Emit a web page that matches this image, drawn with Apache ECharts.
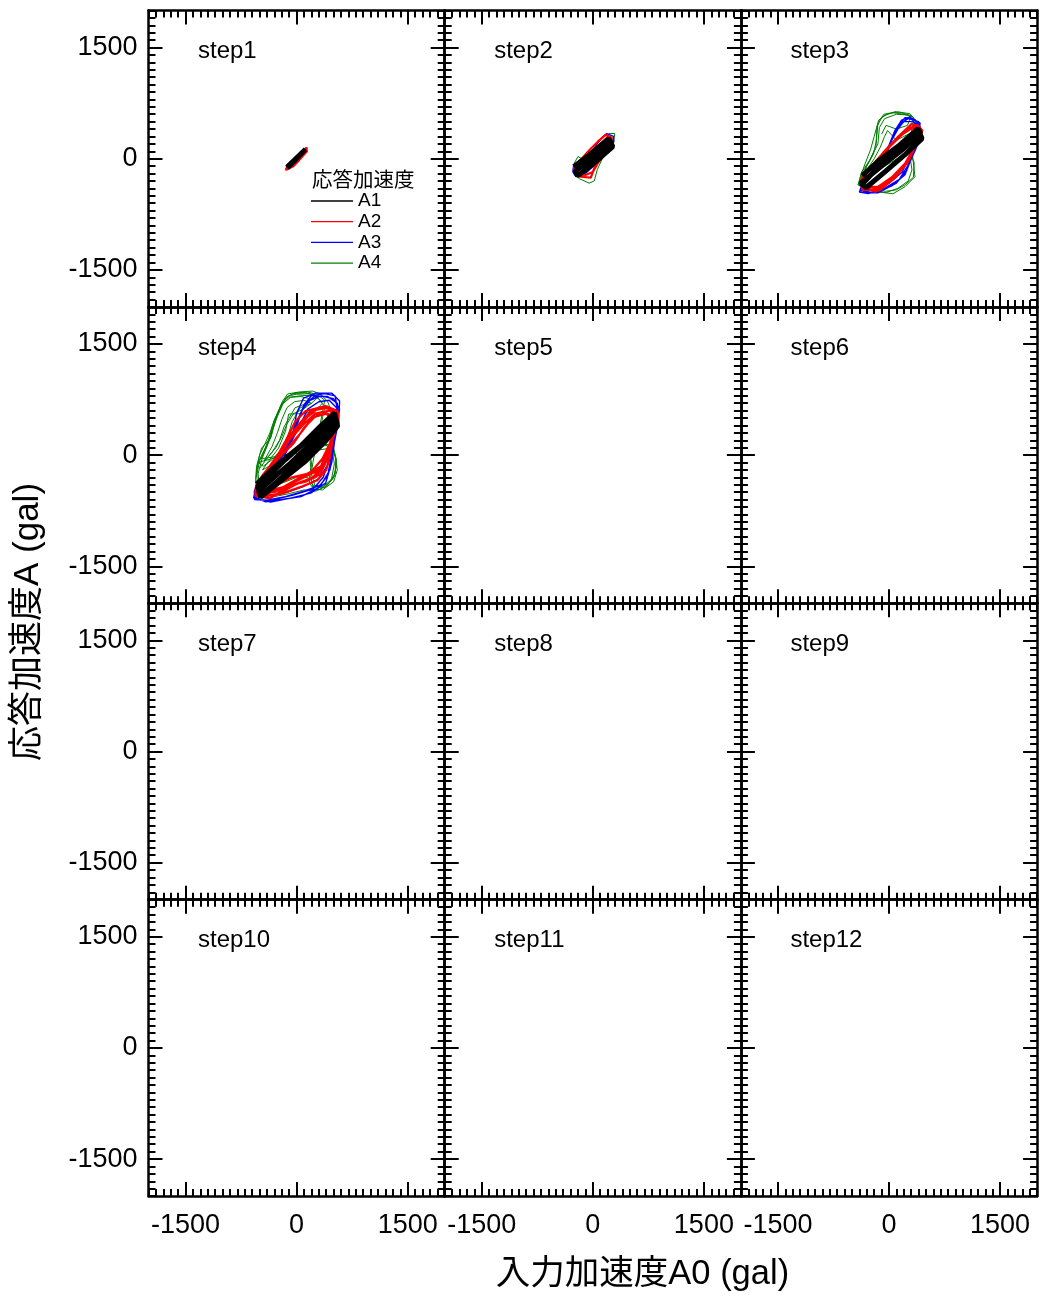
<!DOCTYPE html>
<html><head><meta charset="utf-8">
<script src="https://cdn.jsdelivr.net/npm/echarts@6/dist/echarts.min.js"></script>
<style>html,body{margin:0;padding:0;background:#fff}#c{width:1040px;height:1297px}</style>
</head><body><div id="c"></div>
<script>
const FONT = '"Liberation Sans", "Noto Sans CJK JP", sans-serif';
const stepLabels = ['step1','step2','step3','step4','step5','step6','step7','step8','step9','step10','step11','step12'];
const seriesNames = ['A1','A2','A3','A4'];
const seriesColors = ['#000000','#ff0000','#0000ff','#008000'];
const majorTickValues = [-1500, 0, 1500];
const axisMin = -2000, axisMax = 2000, minorStep = 100;
const xTitle = '入力加速度A0 (gal)';
const yTitle = '応答加速度A (gal)';
const legendTitle = '応答加速度';

// ---- step1 ----
const step1_A1 = [[-135,-110],[0,20],[115,130],[130,110],[10,0],[-120,-130],[-130,-120],[120,120]];
const step1_A2 = [[-150,-140],[-60,-80],[40,30],[130,150],[140,100],[50,0],[-40,-100],[-140,-150],[-150,-140]];
const step1_A3 = [[-140,-120],[0,-20],[120,100],[140,150],[20,40],[-130,-90],[-140,-120]];
const step1_A4 = [[-120,-120],[-50,-70],[30,-40],[0,20],[-80,-30],[-130,-80],[-120,-120]];
// ---- step2 ----
const step2_A1 = [[-257,-108],[-27,68],[216,270],[270,162],[41,-41],[-203,-230],[-240,-170],[0,10],[250,220],[230,250],[20,50],[-220,-140]];
const step2_A2 = [[-257,-149],[-162,-243],[-27,-257],[27,-108],[135,27],[243,149],[257,284],[176,324],[68,230],[-41,122],[-162,-14],[-243,-81],[-257,-149],
  [-230,-200],[-100,-220],[0,-180],[80,-40],[200,100],[260,230],[200,290],[100,200],[0,100],[-120,-20],[-230,-120]];
const step2_A3 = [[-270,-176],[-230,-240],[-100,-200],[50,-60],[200,100],[284,230],[280,300],[189,338],[120,280],[0,120],[-150,0],[-260,-100],[-270,-176]];
const step2_A4 = [[-250,-220],[-250,-60],[-200,30],[-150,0],[-50,-50],[50,50],[150,200],[220,340],[297,340],[280,230],[150,50],[60,-150],[20,-300],[-50,-330],[-180,-270],[-250,-220]];
// ---- step3 ----
const step3_A1 = [[-365,-230],[-122,-14],[149,189],[392,405],[446,270],[216,54],[-54,-176],[-311,-392],[-380,-330],[-100,-100],[180,120],[430,340],[400,380],[150,150],[-150,-120],[-350,-330]];
const step3_A2 = [[-365,-378],[-189,-446],[-14,-324],[176,-135],[324,122],[432,392],[311,473],[122,297],[-68,95],[-230,-108],[-351,-243],[-365,-378],
  [-340,-400],[-150,-380],[40,-250],[220,-60],[360,180],[440,350],[350,440],[180,330],[0,150],[-180,-60],[-320,-200],[-380,-300],[-340,-400],
  [-380,-330],[-240,-420],[-60,-360],[120,-200],[280,20],[400,280],[420,420],[260,400],[60,220],[-120,30],[-280,-150],[-380,-330],
  [-360,-420],[-120,-420],[80,-260],[260,-40],[380,220],[450,380],[380,460],[220,380],[40,200],[-150,0],[-300,-180],[-360,-420]];
const step3_A3 = [[-392,-419],[-230,-459],[41,-365],[216,-216],[284,-41],[405,230],[432,405],[351,527],[216,554],[135,459],[41,270],[-54,0],[-189,-176],[-324,-270],[-392,-419],
  [-370,-380],[-200,-430],[0,-330],[180,-180],[260,0],[380,260],[420,440],[320,500],[200,500],[120,400],[20,220],[-90,-20],[-240,-200],[-370,-300],[-370,-380],
  [-400,-450],[-280,-470],[-60,-400],[140,-280],[250,-100],[340,120],[440,350],[400,500],[260,540],[160,480],[70,330],[-20,100],[-150,-120],[-300,-250],[-400,-450],
  [-380,-440],[-150,-460],[100,-330],[240,-160],[300,60],[400,300],[420,480],[280,560],[170,520],[80,380],[0,180],[-120,-60],[-280,-220],[-380,-440]];
const step3_A4 = [[-419,-351],[-365,-176],[-257,-14],[-176,162],[-162,432],[-95,567],[81,635],[284,608],[351,527],[378,297],[311,95],[351,-243],[216,-378],[54,-473],[-149,-446],[-324,-419],[-419,-351],
  [-400,-330],[-330,-150],[-240,20],[-150,200],[-130,420],[-60,540],[100,600],[260,590],[330,500],[300,350],[200,300],[100,250],[-20,380],[-60,300],[-120,150],[-200,0],[-300,-150],[-380,-300],
  [270,100],[340,-50],[330,-250],[220,-350],[100,-420],[-50,-440],[-200,-420],[-350,-380],[-410,-350],
  [-380,-280],[-300,-100],[-210,60],[-170,250],[-150,470],[-70,600],[60,620],[200,600],[330,560],[360,400],[320,200],[280,50],[310,-150],[260,-300],[120,-400],[-50,-460],[-250,-430],[-380,-380],
  [-390,-250],[-320,-60],[-250,120],[-200,300],[-140,520],[-20,610],[140,630],[300,580],[250,450],[100,400],[-40,450],[-100,330]];
// ---- step4 ----
const step4_A1 = [[-540,-392],[-284,-149],[54,122],[324,392],[513,567],[554,392],[392,189],[122,-81],[-216,-351],[-486,-567],[-513,-486],[-250,-250],[-81,-108],[257,216],[527,486],[500,530],[200,250],[-150,-60],[-400,-300],[-530,-430],[-470,-540],[-200,-300],[100,-20],[380,260],[540,440]];
const step4_A2 = [[-554,-554],[-351,-581],[-149,-446],[54,-365],[257,-297],[378,-108],[459,162],[567,432],[554,594],[392,662],[122,594],[-14,459],[-149,189],[-284,-54],[-459,-270],[-554,-446],[-554,-554],
  [-520,-520],[-300,-500],[-100,-400],[100,-300],[300,-200],[420,0],[500,250],[540,500],[450,600],[250,560],[80,400],[-100,200],[-300,-100],[-480,-330],[-520,-520],
  [-500,-560],[-250,-470],[0,-330],[200,-220],[350,-50],[470,200],[560,480],[500,620],[300,640],[150,520],[0,330],[-200,80],[-400,-200],[-540,-400],[-500,-560],
  [-540,-500],[-320,-420],[-60,-300],[160,-250],[330,-150],[430,100],[520,380],[480,540],[330,580],[180,460],[40,280],[-180,30],[-380,-170],[-540,-500],
  [-530,-540],[-280,-540],[-20,-400],[220,-300],[360,-130],[440,60],[520,320],[555,560],[420,640],[200,600],[60,450],[-60,300],[-240,20],[-420,-230],[-530,-540],
  [-480,-500],[-220,-440],[120,-360],[320,-260],[410,-60],[480,220],[530,420],[400,560],[250,520],[110,380],[-40,160],[-260,-60],[-460,-300],[-480,-500],
  [-450,-560],[-200,-520],[80,-420],[280,-340],[400,-200],[450,-30],[500,300]];
const step4_A3 = [[-581,-581],[-351,-635],[-81,-581],[189,-513],[392,-378],[473,-108],[513,189],[567,459],[581,729],[473,837],[257,837],[95,770],[0,567],[-54,257],[-176,-54],[-378,-243],[-540,-392],[-581,-581],
  [-560,-540],[-300,-600],[-50,-540],[220,-460],[360,-300],[440,-60],[500,230],[560,520],[550,700],[420,790],[240,790],[120,700],[40,520],[-20,300],[-140,40],[-340,-180],[-520,-360],[-560,-540],
  [-570,-600],[-400,-610],[-150,-560],[120,-480],[330,-400],[450,-200],[490,80],[540,350],[580,620],[500,760],[330,800],[180,740],[70,600],[-30,380],[-100,150],[-260,-100],[-450,-300],[-570,-480],[-570,-600],
  [-540,-460],[-350,-540],[-120,-500],[100,-420],[300,-320],[410,-150],[470,100],[520,380],[540,640],[440,740],[300,720],[150,620],[60,430],[-60,200],[-220,-20],[-420,-250],[-540,-460],
  [-575,-560],[-420,-630],[-200,-600],[60,-560],[280,-450],[420,-280],[470,0],[520,280],[560,560],[520,800],[380,830],[200,800],[100,680],[20,450],[-80,220],[-300,-120],[-500,-330],[-575,-560]];
const step4_A4 = [[-540,-486],[-554,-324],[-540,-149],[-473,95],[-351,230],[-311,419],[-257,567],[-189,729],[-122,824],[27,851],[216,864],[324,824],[420,720],[500,520],[430,300],[300,190],[365,162],[500,95],[540,-81],[513,-284],[405,-419],[257,-486],[100,-470],[-100,-520],[-300,-560],[-540,-486],
  [-500,-450],[-520,-250],[-470,-60],[-400,120],[-330,330],[-280,500],[-200,680],[-100,780],[50,800],[200,810],[300,760],[380,650],[330,400],[250,250],[200,150],[365,162],[480,60],[510,-120],[470,-330],[350,-430],[200,-420],[150,-300],[0,-300],[-200,-380],[-400,-480],[-500,-450],
  [-530,-420],[-540,-200],[-500,0],[-420,170],[-360,300],[-300,480],[-230,620],[-150,760],[-50,830],[120,840],[260,800],[350,700],[250,600],[100,560],[-108,554],[-149,324],[-243,95],[-378,-81],[-460,-200],
  [162,149],[365,162],[480,120],[530,-40],[520,-250],[430,-380],[300,-470],[162,-351],[203,-122],[162,149],
  [200,100],[400,130],[510,40],[540,-150],[490,-320],[380,-440],[250,-420],[200,-250],[180,-50],[200,100],
  [-520,-100],[-440,60],[-380,200],[-330,380],[-270,540],[-200,700],[-110,800],[0,820],[180,830],[300,790],[200,700],[50,640],[-60,450],[-120,250],[-220,60],[-330,-60],[-450,-150],[-520,-100],
  [-545,-300],[-500,-80],[-410,100],[-340,260],[-290,450],[-220,640],[-140,780],[-20,840],[150,850],[280,820],[380,740],
  [250,60],[430,90],[525,-20],[550,-200],[500,-360],[350,-470],[230,-460],[190,-300],[220,-100],[250,60],
  [-480,-50],[-400,150],[-330,330],[-260,520],[-180,700],[-80,780],[60,790],[180,760],[120,690],[-20,640],[-90,520],[-170,380],[-230,200],[-330,40],[-440,-80],
  [-420,-60],[-330,120],[-260,300],[-200,480],[-130,640],[-30,720],[100,740],[200,700],[90,620],[-40,560],[-130,420],[-200,250],[-280,100],[-380,-20],[-500,-180]];

const stepData = {
  step1: {A1: step1_A1, A2: step1_A2, A3: step1_A3, A4: step1_A4},
  step2: {A1: step2_A1, A2: step2_A2, A3: step2_A3, A4: step2_A4},
  step3: {A1: step3_A1, A2: step3_A2, A3: step3_A3, A4: step3_A4},
  step4: {A1: step4_A1, A2: step4_A2, A3: step4_A3, A4: step4_A4}
};

// layout
const colLefts = [148.5, 444.7, 740.9];
const rowTops = [10.5, 306.9, 603.3, 899.7];
const panelW = 296.2, panelH = 296.4;
const lineWidths = {A1: 5, A2: 2.2, A3: 1.4, A4: 1};

const grids = [], xAxes = [], yAxes = [], series = [], graphics = [];
const tickLine = {color: '#000', width: 2};
function majorAxis(g, pos, showLabel, isX) {
  return {
    gridIndex: g, type: 'value', min: axisMin, max: axisMax, position: pos,
    axisLine: {show: true, onZero: false, lineStyle: {color: '#000', width: 2.5}},
    axisTick: {show: true, inside: true, length: 14, lineStyle: tickLine, customValues: majorTickValues},
    axisLabel: {show: showLabel, customValues: majorTickValues, fontSize: 27, fontFamily: FONT, color: '#000',
      margin: isX ? 16 : 11, formatter: v => String(v)},
    splitLine: {show: false}
  };
}
function minorAxis(g, pos) {
  return {
    gridIndex: g, type: 'value', min: axisMin, max: axisMax, interval: minorStep, position: pos,
    axisLine: {show: false, onZero: false},
    axisTick: {show: true, inside: true, length: 7, lineStyle: tickLine},
    axisLabel: {show: false}, splitLine: {show: false}
  };
}

stepLabels.forEach((label, g) => {
  const r = Math.floor(g / 3), c = g % 3;
  grids.push({left: colLefts[c], top: rowTops[r], width: panelW, height: panelH, containLabel: false});
  const xi = xAxes.length, yi = yAxes.length;
  xAxes.push(majorAxis(g, 'bottom', r === 3, true));
  xAxes.push(minorAxis(g, 'bottom'));
  xAxes.push(majorAxis(g, 'top', false, true));
  xAxes.push(minorAxis(g, 'top'));
  yAxes.push(majorAxis(g, 'left', c === 0, false));
  yAxes.push(minorAxis(g, 'left'));
  yAxes.push(majorAxis(g, 'right', false, false));
  yAxes.push(minorAxis(g, 'right'));
  const d = stepData[label];
  // draw order: A4 (bottom) ... A1 (top)
  for (let k = seriesNames.length - 1; k >= 0; k--) {
    const name = seriesNames[k];
    series.push({
      type: 'line', name: name, xAxisIndex: xi, yAxisIndex: yi,
      data: d ? d[name] : [],
      showSymbol: false, symbol: 'none', clip: true, silent: true,
      lineStyle: {color: seriesColors[k], width: (label === 'step1' && name === 'A1') ? 4 : lineWidths[name]},
      itemStyle: {color: seriesColors[k]}
    });
  }
  graphics.push({type: 'text', x: colLefts[c] + 49.5, y: rowTops[r] + 41,
    style: {text: label, font: '24px ' + FONT, fill: '#000', textAlign: 'left', textVerticalAlign: 'middle'}});
});

graphics.push({type: 'text', x: 312, y: 181.5,
  style: {text: legendTitle, font: '20.5px ' + FONT, fill: '#000', textAlign: 'left', textVerticalAlign: 'middle'}});
graphics.push({type: 'text', x: 642.5, y: 1274,
  style: {text: xTitle, font: '34.5px ' + FONT, fill: '#000', textAlign: 'center', textVerticalAlign: 'middle'}});
graphics.push({type: 'text', x: 28, y: 622, rotation: Math.PI / 2,
  style: {text: yTitle, font: '35px ' + FONT, fill: '#000', textAlign: 'center', textVerticalAlign: 'middle'}});

const chart = echarts.init(document.getElementById('c'), null, {renderer: 'canvas'});
chart.setOption({
  animation: false,
  backgroundColor: '#fff',
  grid: grids, xAxis: xAxes, yAxis: yAxes, series: series,
  legend: {
    data: seriesNames, orient: 'vertical', left: 311, top: 191, padding: 0,
    itemWidth: 42, itemHeight: 1.3, itemGap: 0.7, icon: 'rect', selectedMode: false,
    textStyle: {fontSize: 19, fontFamily: FONT, color: '#000', lineHeight: 20}
  },
  graphic: {elements: graphics}
});
</script>
</body></html>
